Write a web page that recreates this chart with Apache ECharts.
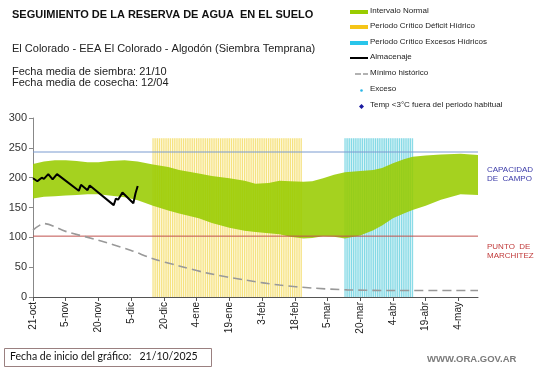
<!DOCTYPE html>
<html>
<head>
<meta charset="utf-8">
<script src="https://cdn.jsdelivr.net/npm/echarts@6/dist/echarts.min.js"></script>
<style>html,body{margin:0;padding:0;background:#fff}#c{width:541px;height:368px}</style>
</head>
<body>
<div id="c"></div>
<script>
// x in days since 21-oct (start of chart)
const tickLabels = ['21-oct','5-nov','20-nov','5-dic','20-dic','4-ene','19-ene','3-feb','18-feb','5-mar','20-mar','4-abr','19-abr','4-may'];
const bandDays  = [0,5,10,15,20,25,30,35,42,48,55,62,67,76,82,90,97,102,108,113,118,124,128,133,138,143,150,156,160,165,170,174,180,187,196,204];
const bandUpper = [223,227,229,229,228,226,226,228,229,227,222,218,213,207,203,199,195,190,191,195,194,193,194,199,205,209,211,213,216,224,231,235,237,239,240,238];
const bandLower = [165,168,169,170,171,172,172,170,167,162,153,145,140,132,124,116,111,109,107,105,101,98,99,102,101,98,103,112,120,132,140,146,153,163,172,171];
const storageDays = [0,2,4,5,7,9,11,21,22,25,26,37,38,39,41,46,47,48];
const storageVals = [199,194,200,198,206,197,206,178,188,179,187,154,165,163,175,157,174,186];
const minDays = [0,5,15,30,45,55,67,80,98,113,128,144,160,204];
const minVals = [112,123,110,95,78,64,52,40,28,20,15,12,11,11];
const deficitPeriod = [55,123];
const excessPeriod = [143,174];
const periodTop = 266;
const fieldCapacity = 243;
const wiltingPoint = 102;
const xMax = 204;

const chart = echarts.init(document.getElementById('c'));

function stripes(params, api) {
  const s = api.value(0), e = api.value(1), top = api.value(2), kind = api.value(3);
  const stripeCol = kind === 0 ? 'rgba(238,205,50,0.55)' : 'rgba(60,195,215,0.55)';
  const bgCol = kind === 0 ? 'rgba(250,232,120,0.22)' : 'rgba(110,210,225,0.25)';
  const a = api.coord([s, 0]), b = api.coord([e, top]);
  const children = [{type:'rect', shape:{x:a[0], y:b[1], width:b[0]-a[0], height:a[1]-b[1]}, style:{fill:bgCol}}];
  for (let d = s; d <= e; d++) {
    const p0 = api.coord([d, 0]), p1 = api.coord([d, top]);
    children.push({type:'rect', shape:{x:p0[0]-0.6, y:p1[1], width:1.2, height:p0[1]-p1[1]}, style:{fill:stripeCol}});
  }
  return {type:'group', children};
}

function band(params, api) {
  const pts = [];
  for (let i = 0; i < bandDays.length; i++) pts.push(api.coord([bandDays[i], bandUpper[i]]));
  for (let i = bandDays.length - 1; i >= 0; i--) pts.push(api.coord([bandDays[i], bandLower[i]]));
  return {type:'polygon', shape:{points:pts}, style:{fill:'rgba(153,204,0,0.88)'}};
}

const legendTextX = 370;
const legendItems = [
  {y:12, text:'Intervalo Normal'},
  {y:27, text:'Periodo Crítico Déficit Hídrico'},
  {y:43, text:'Periodo Crítico Excesos Hídricos'},
  {y:58, text:'Almacenaje'},
  {y:74, text:'Mínimo histórico'},
  {y:90, text:'Exceso'},
  {y:106, text:'Temp <3°C fuera del periodo habitual'}
];
const g = [];
g.push({type:'text', left:12, top:9, style:{text:'SEGUIMIENTO DE LA RESERVA DE AGUA  EN EL SUELO', font:'bold 11px "Liberation Sans", Arial', fill:'#111'}});
g.push({type:'text', left:12, top:43, style:{text:'El Colorado - EEA El Colorado - Algodón (Siembra Temprana)', font:'11px "Liberation Sans", Arial', fill:'#222'}});
g.push({type:'text', left:12, top:66, style:{text:'Fecha media de siembra: 21/10\nFecha media de cosecha: 12/04', font:'11px "Liberation Sans", Arial', fill:'#222', lineHeight:11}});
legendItems.forEach(it => {
  g.push({type:'text', left:legendTextX, top:it.y-5, style:{text:it.text, font:'8px "Liberation Sans", Arial', fill:'#222'}});
});
g.push({type:'rect', shape:{x:350, y:10, width:18, height:4}, style:{fill:'#99cc00'}});
g.push({type:'rect', shape:{x:350, y:25, width:18, height:4}, style:{fill:'#f5c518'}});
g.push({type:'rect', shape:{x:350, y:41, width:18, height:4}, style:{fill:'#29c5ea'}});
g.push({type:'line', shape:{x1:350, y1:58, x2:368, y2:58}, style:{stroke:'#000', lineWidth:2}});
g.push({type:'line', shape:{x1:355, y1:74, x2:361, y2:74}, style:{stroke:'#999', lineWidth:1.5}});
g.push({type:'line', shape:{x1:363, y1:74, x2:368, y2:74}, style:{stroke:'#999', lineWidth:1.5}});
g.push({type:'circle', shape:{cx:361.5, cy:90.5, r:1.3}, style:{fill:'#29b6e6'}});
g.push({type:'polygon', shape:{points:[[361.5,104],[364,106.5],[361.5,109],[359,106.5]]}, style:{fill:'#1a1aa0'}});
g.push({type:'text', left:487, top:165, style:{text:'CAPACIDAD\nDE  CAMPO', font:'8px "Liberation Sans", Arial', fill:'#3a3aa8', lineHeight:9.5}});
g.push({type:'text', left:487, top:242, style:{text:'PUNTO  DE\nMARCHITEZ', font:'8px "Liberation Sans", Arial', fill:'#c03a3a', lineHeight:9.5}});
g.push({type:'rect', shape:{x:4.5, y:348.5, width:207, height:18}, style:{fill:'#fff', stroke:'#9a8080', lineWidth:1}});
g.push({type:'text', left:10, top:351, style:{text:'Fecha de inicio del gráfico:   21/10/2025', font:'10.5px Lato, "Open Sans", sans-serif', fill:'#111'}});
g.push({type:'text', left:427, top:354, style:{text:'WWW.ORA.GOV.AR', font:'bold 9.5px "Liberation Sans", Arial', fill:'#7a7a7a'}});

chart.setOption({
  animation:false,
  grid:{left:33, right:63, top:118, bottom:71, containLabel:false, outerBoundsMode:'none'},
  xAxis:{type:'value', min:0, max:xMax, interval:15,
    axisLine:{lineStyle:{color:'#555', width:1}},
    axisTick:{show:true, length:4, lineStyle:{color:'#555'}},
    splitLine:{show:false},
    axisLabel:{rotate:90, fontSize:10, color:'#222', fontFamily:'"Liberation Sans", Arial', showMaxLabel:false, margin:5,
      formatter: v => tickLabels[Math.round(v/15)] || ''}},
  yAxis:{type:'value', min:0, max:300, interval:50,
    name:'Milímetros', nameLocation:'middle', nameGap:23, nameRotate:90,
    nameTextStyle:{fontSize:7, color:'#222'},
    axisLine:{show:true, lineStyle:{color:'#888'}},
    axisTick:{show:true, length:4, lineStyle:{color:'#888'}},
    splitLine:{show:false},
    axisLabel:{fontSize:11, color:'#333', fontFamily:'"Liberation Sans", Arial', margin:6}},
  graphic:g,
  series:[
    {type:'custom', renderItem:stripes, z:1, silent:true,
     data:[[deficitPeriod[0], deficitPeriod[1], periodTop, 0],[excessPeriod[0], excessPeriod[1], periodTop, 1]]},
    {type:'custom', renderItem:band, z:2, silent:true, data:[[0]]},
    {type:'line', z:3, symbol:'none', lineStyle:{color:'#7b9bd0', width:1}, data:[[0, fieldCapacity],[xMax, fieldCapacity]]},
    {type:'line', z:3, symbol:'none', lineStyle:{color:'#c0504d', width:1}, data:[[0, wiltingPoint],[xMax, wiltingPoint]]},
    {type:'line', z:4, symbol:'none', smooth:0.3, lineStyle:{color:'#999', width:1.6, type:[9,5]}, data:minDays.map((d,i)=>[d, minVals[i]])},
    {type:'line', z:5, symbol:'none', lineStyle:{color:'#000', width:2}, data:storageDays.map((d,i)=>[d, storageVals[i]])}
  ]
});
</script>
</body>
</html>
